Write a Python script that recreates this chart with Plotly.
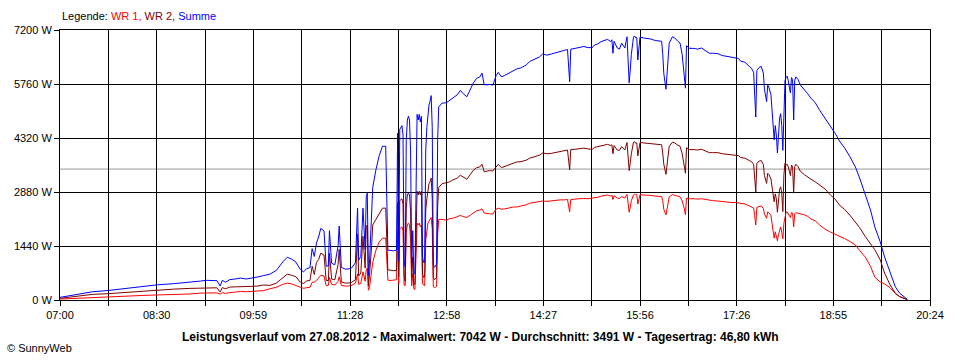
import plotly.graph_objects as go

# ---------------- data ----------------
zeiten = [
    "07:00","07:10","07:20","07:30","07:45","08:00","08:15","08:30","08:45","09:00",
    "09:10","09:15","09:25","09:28","09:30","09:33","09:37","09:42","09:47","09:52",
    "09:57","10:02","10:08","10:14","10:20","10:26","10:30","10:34","10:38","10:42",
    "10:45","10:48","10:51","10:53","10:55","10:57","10:59","11:01","11:04","11:06",
    "11:08","11:09","11:11","11:14","11:17","11:18","11:20","11:24","11:29","11:33",
    "11:35","11:36","11:38","11:40","11:42","11:43","11:44","11:45","11:46","11:48",
    "11:49","11:52","11:55","11:58","12:01","12:03","12:05","12:08","12:11","12:12",
    "12:13","12:14","12:16","12:17","12:18","12:19","12:20","12:21","12:22","12:23",
    "12:24","12:25","12:26","12:27","12:28","12:30","12:31","12:32","12:33","12:34",
    "12:35","12:36","12:37","12:38","12:39","12:40","12:41","12:42","12:43","12:44",
    "12:45","12:46","12:47","12:48","12:49","12:50","12:53","12:57","13:00","13:03",
    "13:07","13:10","13:12","13:16","13:19","13:22","13:25","13:28","13:30","13:32",
    "13:35","13:37","13:40","13:43","13:45","13:48","13:51","13:55","13:59","14:02",
    "14:06","14:11","14:14","14:19","14:23","14:26","14:30","14:34","14:38","14:42",
    "14:46","14:49","14:51","14:52","14:56","15:00","15:04","15:08","15:12","15:14",
    "15:17","15:20","15:23","15:26","15:29","15:30","15:31","15:32","15:35","15:37",
    "15:39","15:42","15:44","15:45","15:46","15:47","15:48","15:50","15:51","15:52",
    "15:53","15:54","15:56","15:59","16:02","16:06","16:10","16:14","16:16","16:17",
    "16:18","16:20","16:21","16:23","16:26","16:28","16:31","16:33","16:35","16:37",
    "16:38","16:39","16:42","16:46","16:49","16:53","16:56","17:00","17:03","17:08",
    "17:12","17:16","17:20","17:24","17:27","17:29","17:33","17:37","17:39","17:41",
    "17:42","17:43","17:44","17:46","17:48","17:50","17:51","17:53","17:54","17:55",
    "17:57","17:58","17:59","18:00","18:01","18:02","18:03","18:04","18:05","18:06",
    "18:07","18:08","18:09","18:10","18:11","18:12","18:13","18:15","18:16","18:17",
    "18:18","18:19","18:20","18:22","18:24","18:28","18:31","18:34","18:38","18:42",
    "18:47","18:52","18:56","19:01","19:05","19:10","19:15","19:19","19:24","19:29",
    "19:33","19:38","19:42","19:47","19:52","19:56","20:01","20:03",
]

wr1 = [
    25,40,55,70,85,105,120,135,145,160,
    185,190,190,160,195,175,200,210,230,220,
    230,240,250,300,340,420,450,430,390,340,
    310,330,340,470,480,520,600,660,640,380,
    390,600,420,400,500,620,390,370,380,450,
    700,420,440,750,500,800,850,260,330,800,
    1000,1330,1550,1650,1650,530,520,530,540,1850,
    420,1900,1950,1850,400,380,1800,2000,2050,2000,
    1600,380,700,300,280,2050,2000,2050,1950,2000,
    450,400,380,1600,1900,2050,2100,2150,2200,1900,
    350,330,340,360,1750,2150,2150,2130,2170,2180,
    2220,2260,2230,2200,2260,2330,2380,2400,2430,2320,
    2300,2300,2290,2420,2450,2420,2430,2460,2480,2480,
    2500,2540,2580,2600,2620,2640,2630,2650,2660,2670,
    2670,2680,2350,2680,2690,2700,2710,2700,2710,2730,
    2740,2770,2790,2800,2770,2800,2680,2780,2720,2700,
    2760,2720,2820,2600,2340,2470,2650,2800,2820,2810,
    2810,2560,2810,2800,2800,2790,2770,2770,2760,2650,
    2420,2270,2450,2750,2810,2800,2770,2750,2640,2430,
    2270,2720,2700,2700,2690,2700,2680,2650,2650,2640,
    2620,2610,2600,2600,2590,2570,2560,2510,2490,2450,
    2250,2000,2470,2500,2510,2440,2300,2180,2350,2330,
    2250,2050,1870,1650,1820,1700,1580,1750,1900,1950,
    1800,1630,2050,2200,2340,2350,2300,2200,2330,2320,
    1950,2300,2330,2320,2300,2270,2230,2160,2110,2000,
    1890,1810,1760,1700,1640,1560,1470,1320,1150,900,
    610,480,430,330,170,90,25,10,
]

wr2 = [
    45,80,110,150,170,200,240,270,290,310,
    320,335,325,215,330,300,345,350,355,340,
    350,370,400,390,450,600,690,660,620,480,
    440,510,520,900,680,1000,1080,1250,1200,520,
    520,1250,560,540,950,1350,480,450,460,540,
    1750,640,720,1700,850,1950,2000,380,650,1450,
    2000,2150,2300,2450,2450,800,800,780,790,2600,
    620,2650,2700,2550,650,500,2450,2800,2850,2800,
    2350,600,1150,420,420,2900,2800,2900,2800,2900,
    700,600,620,2400,2700,3000,3100,3150,3250,2700,
    600,540,560,600,2500,3000,3100,3130,3150,3200,
    3250,3330,3290,3220,3340,3460,3530,3550,3620,3420,
    3440,3450,3440,3560,3620,3530,3560,3600,3650,3680,
    3690,3730,3780,3830,3860,3920,3900,3910,3930,3950,
    3970,4000,3470,4010,4020,4040,4050,4030,4020,4070,
    4090,4120,4140,4150,4120,4140,3900,4120,4000,3990,
    4090,4000,4200,3800,3450,3660,3900,4210,4222,4180,
    4190,3840,4200,4190,4180,4170,4150,4150,4140,3920,
    3620,3350,3600,4100,4210,4190,4130,4100,3900,3600,
    3380,4060,4010,4010,4000,4020,3980,3930,3930,3930,
    3900,3890,3870,3870,3850,3800,3780,3720,3690,3620,
    3280,2880,3650,3700,3720,3610,3320,3110,3380,3350,
    3230,3000,2860,2620,2830,2700,2340,2750,2950,3020,
    2850,2360,3350,3650,3600,3620,3550,3320,3600,3560,
    2850,3560,3620,3560,3440,3340,3270,3220,3150,3060,
    2960,2800,2700,2510,2420,2260,2080,1930,1700,1500,
    1340,1070,720,410,180,90,30,10,
]

summe = [
    70,120,165,220,255,305,360,405,435,470,
    505,525,515,375,525,475,545,560,585,560,
    580,610,650,690,790,1020,1140,1090,1010,820,
    750,840,860,1370,1160,1520,1680,1910,1840,900,
    910,1850,980,940,1450,1970,870,820,840,990,
    2450,1060,1160,2450,1350,2750,2850,640,980,2250,
    3000,3480,3850,4100,4100,1330,1320,1310,1330,4450,
    1040,4550,4650,4400,1050,880,4250,4800,4900,4800,
    3950,980,1850,720,700,4950,4800,4950,4750,4900,
    1150,1000,1000,4000,4600,5050,5200,5300,5450,4600,
    950,870,900,960,4250,5150,5250,5260,5320,5380,
    5470,5590,5520,5420,5600,5790,5910,5950,6050,5740,
    5740,5750,5730,5980,6070,5950,5990,6060,6130,6160,
    6190,6270,6360,6430,6480,6560,6530,6560,6590,6620,
    6640,6680,5820,6690,6710,6740,6760,6730,6730,6800,
    6830,6890,6930,6950,6890,6940,6580,6900,6720,6690,
    6850,6720,7020,6400,5790,6130,6550,7010,7042,6990,
    7000,6400,7010,6990,6980,6960,6920,6920,6900,6570,
    6040,5620,6050,6850,7020,6990,6900,6850,6540,6030,
    5650,6780,6710,6710,6690,6720,6660,6580,6580,6570,
    6520,6500,6470,6470,6440,6370,6340,6230,6180,6070,
    5530,4880,6120,6200,6230,6050,5620,5290,5730,5680,
    5480,5050,4730,4270,4650,4400,3920,4500,4850,4970,
    4650,3990,5400,5850,5940,5970,5850,5520,5930,5880,
    4800,5860,5950,5880,5740,5610,5500,5380,5260,5060,
    4850,4610,4460,4210,4060,3820,3550,3250,2850,2400,
    1950,1550,1150,740,350,180,55,20,
]

durchschnitt = 3491
x_tick_labels = ["07:00", "08:30", "09:59", "11:28", "12:58",
                 "14:27", "15:56", "17:26", "18:55", "20:24"]
y_max = 7200
y_step = 1440
titel = ("Leistungsverlauf vom 27.08.2012 - Maximalwert: 7042 W - "
         "Durchschnitt: 3491 W - Tagesertrag: 46,80 kWh")

# ---------------- figure ----------------
def to_min(s):
    h, m = s.split(":")
    return int(h) * 60 + int(m)

x = [to_min(t) for t in zeiten]
x0 = to_min(x_tick_labels[0])
x1 = to_min(x_tick_labels[-1])
n_int = (len(x_tick_labels) - 1) * 2
tickvals = [x0 + k * (x1 - x0) / n_int for k in range(n_int + 1)]
ticktext = []
for k in range(n_int + 1):
    ticktext.append(x_tick_labels[k // 2] if k % 2 == 0 else "")

FONT = "Liberation Sans, Arial, sans-serif"

fig = go.Figure()
fig.add_trace(go.Scatter(x=x, y=wr1, mode="lines", name="WR 1",
                         line=dict(color="#ff0000", width=1)))
fig.add_trace(go.Scatter(x=x, y=wr2, mode="lines", name="WR 2",
                         line=dict(color="#800000", width=1)))
fig.add_trace(go.Scatter(x=x, y=summe, mode="lines", name="Summe",
                         line=dict(color="#0000ff", width=1)))

fig.add_shape(type="line", xref="x", yref="y", x0=x0, x1=x1,
              y0=durchschnitt, y1=durchschnitt,
              line=dict(color="#999999", width=1), layer="below")

axis_common = dict(
    showgrid=True, gridcolor="#000000", gridwidth=1,
    showline=True, linecolor="#000000", linewidth=1, mirror=True,
    ticks="outside", tickcolor="#000000", ticklen=5, tickwidth=1,
    zeroline=False, tickfont=dict(family=FONT, size=11, color="#000000"),
)

fig.update_xaxes(range=[x0, x1], tickmode="array", tickvals=tickvals,
                 ticktext=ticktext, **axis_common)
fig.update_yaxes(range=[0, y_max], tickmode="linear", tick0=0, dtick=y_step,
                 ticksuffix=" W", **axis_common)

legend_html = ("Legende: <span style='color:#ff0000'>WR 1, </span>"
               "<span style='color:#800000'>WR 2, </span>"
               "<span style='color:#0000ff'>Summe</span>")

fig.update_layout(
    width=960, height=360, autosize=False,
    margin=dict(l=60, r=30, t=30, b=60),
    plot_bgcolor="#ffffff", paper_bgcolor="#ffffff",
    showlegend=False, hovermode=False,
    font=dict(family=FONT, size=11, color="#000000"),
    annotations=[
        dict(text=legend_html, xref="paper", yref="paper", x=0, y=1 + 14 / 270,
             xanchor="left", yanchor="middle", showarrow=False,
             font=dict(family=FONT, size=11, color="#000000")),
        dict(text="<b>" + titel + "</b>", xref="paper", yref="paper",
             x=(480 - 60) / 870, y=-37 / 270, xanchor="center", yanchor="middle",
             showarrow=False, font=dict(family=FONT, size=12, color="#000000")),
        dict(text="© SunnyWeb", xref="paper", yref="paper",
             x=(5 - 60) / 870, y=-48 / 270, xanchor="left", yanchor="middle",
             showarrow=False, font=dict(family=FONT, size=11, color="#000000")),
    ],
)

fig.write_html("out.html", config={"displayModeBar": False},
               post_script="document.body.style.margin='0px';"
                           "document.body.style.padding='0px';")
